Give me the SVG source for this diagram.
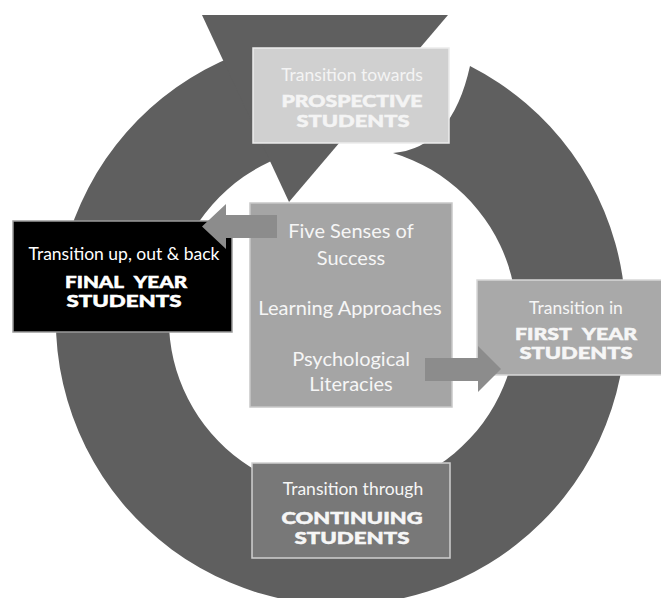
<svg xmlns="http://www.w3.org/2000/svg" width="661" height="598" viewBox="0 0 661 598">
<style>
  .ring { fill: #5f5f5f; }
  .arrow { fill: #8c8c8c; }
  .box { stroke-width: 1.5; }
  .t { font-family: Lato, "Open Sans", "Liberation Sans", sans-serif; text-anchor: middle; dominant-baseline: central; }
  .reg { font-size: 17.5px; font-weight: 400; }
  .cap { font-size: 16px; font-weight: 900; stroke-width: 0.5px; word-spacing: 5px; }
  .mid { font-size: 20px; font-weight: 400; fill: #f6f6f6; }
</style>
<rect width="661" height="598" fill="#ffffff"/>
<g id="cycle-arrow">
  <path class="ring" d="M470,66 A285,285 0 1,1 300,38 L300,151 A174,174 0 1,0 393,153 Q452,148 470,66 Z"/>
  <polygon class="ring" points="202,15 448,15 289,202"/>
</g>
<g id="prospective">
  <rect class="box" x="253" y="48" width="196" height="95" fill="#d0d0d0" stroke="#ececec"/>
  <text class="t reg" x="352" y="74" fill="#f4f4f4">Transition towards</text>
  <text class="t cap" x="352" y="100" fill="#f4f4f4" stroke="#f4f4f4" textLength="141" lengthAdjust="spacingAndGlyphs">PROSPECTIVE</text>
  <text class="t cap" x="353" y="120" fill="#f4f4f4" stroke="#f4f4f4" textLength="113" lengthAdjust="spacingAndGlyphs">STUDENTS</text>
</g>
<g id="final-year">
  <rect class="box" x="13" y="221" width="219" height="111" fill="#000000" stroke="#9a9a9a"/>
  <text class="t reg" x="124" y="253" fill="#ffffff">Transition up, out &amp; back</text>
  <text class="t cap" x="126" y="281" fill="#ffffff" stroke="#ffffff" textLength="122" lengthAdjust="spacingAndGlyphs">FINAL YEAR</text>
  <text class="t cap" x="124" y="300" fill="#ffffff" stroke="#ffffff" textLength="115" lengthAdjust="spacingAndGlyphs">STUDENTS</text>
</g>
<g id="center">
  <rect class="box" x="250" y="203" width="202" height="204" fill="#a5a5a5" stroke="#c8c8c8"/>
  <text class="t mid" x="351" y="230">Five Senses of</text>
  <text class="t mid" x="351" y="257">Success</text>
  <text class="t mid" x="350" y="307">Learning Approaches</text>
  <text class="t mid" x="351" y="358">Psychological</text>
  <text class="t mid" x="351" y="383">Literacies</text>
</g>
<g id="first-year">
  <rect class="box" x="477" y="280" width="186" height="95" fill="#a9a9a9" stroke="#d8d8d8"/>
  <text class="t reg" x="576" y="307" fill="#f6f6f6">Transition in</text>
  <text class="t cap" x="576" y="333" fill="#f6f6f6" stroke="#f6f6f6" textLength="122" lengthAdjust="spacingAndGlyphs">FIRST YEAR</text>
  <text class="t cap" x="576" y="352" fill="#f6f6f6" stroke="#f6f6f6" textLength="113" lengthAdjust="spacingAndGlyphs">STUDENTS</text>
</g>
<g id="continuing">
  <rect class="box" x="252" y="463" width="198" height="95" fill="#787878" stroke="#cfcfcf"/>
  <text class="t reg" x="353" y="488" fill="#f6f6f6">Transition through</text>
  <text class="t cap" x="352" y="517" fill="#f6f6f6" stroke="#f6f6f6" textLength="141" lengthAdjust="spacingAndGlyphs">CONTINUING</text>
  <text class="t cap" x="352" y="537" fill="#f6f6f6" stroke="#f6f6f6" textLength="115" lengthAdjust="spacingAndGlyphs">STUDENTS</text>
</g>
<g id="connectors">
  <polygon class="arrow" points="277,215 226,215 226,204 202,226.5 226,249 226,238 277,238"/>
  <polygon class="arrow" points="425,358 478,358 478,346 501,369 478,392 478,381 425,381"/>
</g>
</svg>
